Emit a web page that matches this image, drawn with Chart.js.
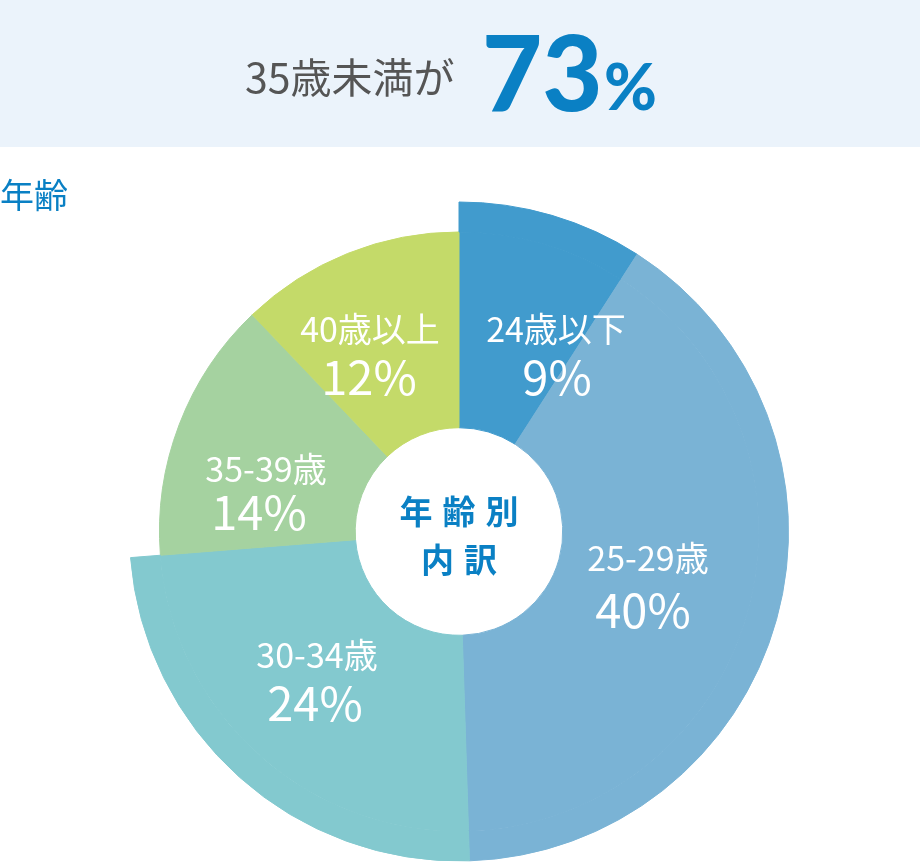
<!DOCTYPE html>
<html lang="ja">
<head>
<meta charset="utf-8">
<script src="https://cdn.jsdelivr.net/npm/chart.js@4"></script>
<style>
  html, body { margin: 0; padding: 0; background: #fff; }
  #wrap { position: relative; width: 920px; height: 863px; }
  canvas { position: absolute; left: 0; top: 0; }
</style>
</head>
<body>
<div id="wrap"><canvas id="ageChart" width="920" height="863"></canvas></div>
<script>
// 年齢別内訳
const ageLabels = ['24歳以下', '25-29歳', '30-34歳', '35-39歳', '40歳以上'];
const agePercent = [9, 40, 24, 14, 12];
const ageColors = ['#419bcd', '#7ab3d5', '#83c9cf', '#a5d2a0', '#c4da69'];
// slices that reach the outer ring
const outerRing = [true, true, true, false, false];
const headline = '35歳未満が';
const headlineValue = '73';

// label centres relative to the pie centre (name line, percent line)
const labelPos = [
  [97, -202, 98, -154],
  [189, 27, 184, 79],
  [-142, 124, -144, 172],
  [-193, -62, -200, -19],
  [-89, -202, -90, -154]
];

const FONT = '"Noto Sans CJK JP", "Noto Sans", sans-serif';

const decor = {
  id: 'decor',
  beforeDraw(chart) {
    const ctx = chart.ctx;
    ctx.save();
    ctx.fillStyle = '#ebf3fb';
    ctx.fillRect(0, 0, 920, 147);

    ctx.textBaseline = 'alphabetic';
    ctx.textAlign = 'left';
    ctx.fillStyle = '#555555';
    ctx.font = '400 41px ' + FONT;
    ctx.fillText(headline, 245, 93);

    ctx.fillStyle = '#0a80c4';
    ctx.font = '900 104px Lato, ' + FONT;
    ctx.fillText(headlineValue, 482, 111);
    ctx.font = '900 64px Lato, ' + FONT;
    ctx.fillText('%', 604, 110);

    ctx.font = '400 34px ' + FONT;
    ctx.textBaseline = 'middle';
    ctx.fillText('年齢', 0, 195);
    ctx.restore();
  },
  afterDraw(chart) {
    const ctx = chart.ctx;
    const arc = chart.getDatasetMeta(1).data[0];
    const cx = arc.x, cy = arc.y;
    ctx.save();
    ctx.textAlign = 'center';
    ctx.textBaseline = 'middle';
    ctx.fillStyle = '#ffffff';
    ageLabels.forEach((name, i) => {
      const p = labelPos[i];
      ctx.font = '400 34px ' + FONT;
      ctx.fillText(name, cx + p[0], cy + p[1]);
      ctx.font = '400 47px ' + FONT;
      ctx.fillText(agePercent[i] + '%', cx + p[2], cy + p[3]);
    });

    ctx.fillStyle = '#0a80c4';
    ctx.font = '700 33px ' + FONT;
    ctx.letterSpacing = '10px';
    ctx.fillText('年齢別', cx + 5, cy - 20);
    ctx.fillText('内訳', cx + 5, cy + 28);
    ctx.restore();
  }
};

new Chart(document.getElementById('ageChart'), {
  type: 'doughnut',
  data: {
    labels: ageLabels,
    datasets: [{
      data: agePercent,
      backgroundColor: ageColors.map((c, i) => outerRing[i] ? c : 'rgba(0,0,0,0)'),
      borderColor: ageColors.map((c, i) => outerRing[i] ? c : 'rgba(0,0,0,0)'),
      borderWidth: 1,
      weight: 30
    }, {
      data: agePercent,
      backgroundColor: ageColors,
      borderColor: ageColors,
      borderWidth: 1,
      weight: 196
    }]
  },
  options: {
    responsive: false,
    animation: false,
    cutout: '31.5%',
    layout: { padding: { left: 129, right: 131, top: 201, bottom: 1 } },
    plugins: {
      legend: { display: false },
      tooltip: { enabled: false }
    }
  },
  plugins: [decor]
});
</script>
</body>
</html>
